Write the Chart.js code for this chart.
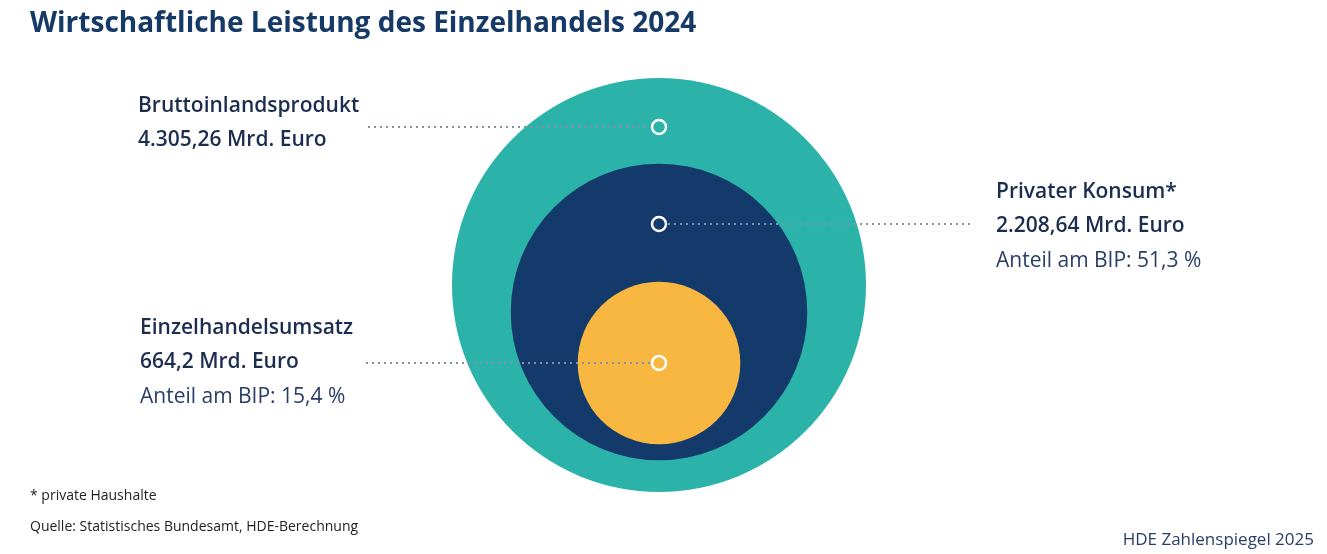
<!DOCTYPE html>
<html><head><meta charset="utf-8">
<script src="https://cdn.jsdelivr.net/npm/chart.js@4"></script>
<style>html,body{margin:0;padding:0;background:#fff}#w{width:1327px;height:554px;position:relative}</style>
</head><body><div id="w"><canvas id="c"></canvas></div>
<script>
const categories = ["Bruttoinlandsprodukt", "Privater Konsum*", "Einzelhandelsumsatz"];
const valuesMrd = [4305.26, 2208.64, 664.2];
const valueLabels = ["4.305,26 Mrd. Euro", "2.208,64 Mrd. Euro", "664,2 Mrd. Euro"];
const shareLabels = ["", "Anteil am BIP: 51,3 %", "Anteil am BIP: 15,4 %"];
const colors = ["#2bb3a9", "#143a6b", "#f8b740"];

const W = 1327, H = 554, CX = 659;
const K = 207 / Math.sqrt(valuesMrd[0]);
const radii = valuesMrd.map(v => K * Math.sqrt(v));
const centersY = [285, 312, 363];
const dotY = [127, 224, 363];
const leaders = [[368, 650], [668, 970], [366, 650]];

const datasets = [];
valuesMrd.forEach((v, i) => {
  datasets.push({type:'bubble', data:[{x:CX, y:centersY[i], r:radii[i]}], backgroundColor:colors[i], borderWidth:0, clip:false, order:10-i});
});
leaders.forEach((l, i) => {
  datasets.push({type:'line', data:[{x:l[0], y:dotY[i]}, {x:l[1], y:dotY[i]}], borderColor:'#8290a8', borderWidth:2.2, borderDash:[2,4], pointRadius:0, clip:false, order:2});
});
datasets.push({type:'scatter', data:dotY.map(y => ({x:CX, y})), pointRadius:7, pointBorderColor:'#fff', pointBorderWidth:2.5, pointBackgroundColor:'rgba(0,0,0,0)', clip:false, order:1});

const textPlugin = {id:'txt', afterDraw(ch){
  const c = ch.ctx; c.save(); c.textBaseline = 'alphabetic';
  c.fillStyle = '#163a68'; c.font = 'bold 28px "Open Sans"'; c.fillText('Wirtschaftliche Leistung des Einzelhandels 2024', 30, 32);
  const blocks = [[138, 112], [996, 198], [140, 334]];
  blocks.forEach((b, i) => {
    c.fillStyle = '#1c2d4f'; c.font = '600 21px "Open Sans"';
    c.fillText(categories[i], b[0], b[1]);
    c.fillText(valueLabels[i], b[0], b[1] + 34);
    if (shareLabels[i]) { c.fillStyle = '#2a3d66'; c.font = '21px "Open Sans"'; c.fillText(shareLabels[i], b[0], b[1] + 69); }
  });
  c.fillStyle = '#222'; c.font = '14px "Open Sans"';
  c.fillText('* private Haushalte', 30, 500);
  c.fillText('Quelle: Statistisches Bundesamt, HDE-Berechnung', 30, 531);
  c.fillStyle = '#2a3d66'; c.font = '17px "Open Sans"'; c.textAlign = 'right';
  c.fillText('HDE Zahlenspiegel 2025', 1314, 545);
  c.restore();
}};

new Chart(document.getElementById('c'), {
  data:{datasets},
  options:{responsive:true, maintainAspectRatio:false, animation:false, layout:{padding:0, autoPadding:false},
    plugins:{legend:{display:false}, tooltip:{enabled:false}},
    scales:{x:{type:'linear', min:0, max:W, display:false}, y:{type:'linear', min:0, max:H, reverse:true, display:false}}},
  plugins:[textPlugin]
});
</script></body></html>
